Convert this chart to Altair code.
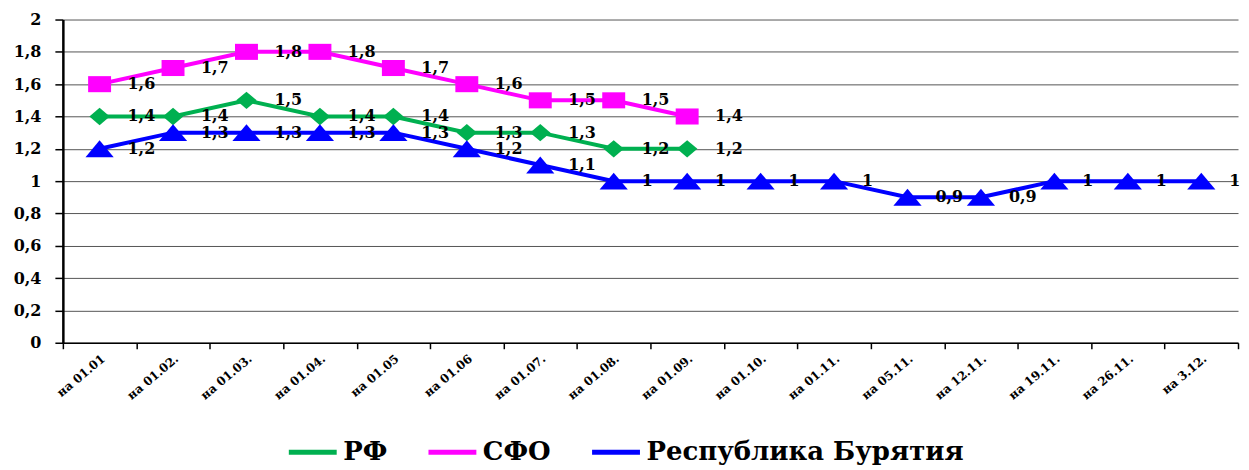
import altair as alt
import pandas as pd

dates = ["на 01.01", "на 01.02.", "на 01.03.", "на 01.04.", "на 01.05", "на 01.06",
         "на 01.07.", "на 01.08.", "на 01.09.", "на 01.10.", "на 01.11.", "на 05.11.",
         "на 12.11.", "на 19.11.", "на 26.11.", "на 3.12."]
series_names = ["РФ", "СФО", "Республика Бурятия"]
rf_values = [1.4, 1.4, 1.5, 1.4, 1.4, 1.3, 1.3, 1.2, 1.2]
sfo_values = [1.6, 1.7, 1.8, 1.8, 1.7, 1.6, 1.5, 1.5, 1.4]
bur_values = [1.2, 1.3, 1.3, 1.3, 1.3, 1.2, 1.1, 1, 1, 1, 1, 0.9, 0.9, 1, 1, 1]
y_ticks = [0, 0.2, 0.4, 0.6, 0.8, 1, 1.2, 1.4, 1.6, 1.8, 2]
colors = ["#00B050", "#FF00FF", "#0000FF"]

FONT = "DejaVu Serif"

rows = []
for name, vals in [(series_names[0], rf_values),
                   (series_names[1], sfo_values),
                   (series_names[2], bur_values)]:
    for i, v in enumerate(vals):
        rows.append({"series": name, "date": dates[i], "idx": i, "value": v,
                     "lbl": f"{v:g}".replace(".", ",")})
df = pd.DataFrame(rows)

x_enc = alt.X("date:N", sort=dates,
              scale=alt.Scale(type="band", domain=dates, paddingInner=0, paddingOuter=0),
              axis=alt.Axis(title=None, labelAngle=-40, tickBand="extent", grid=False,
                            domainColor="black", domainWidth=1.5, tickColor="black",
                            tickSize=6, tickWidth=1.5, labelPadding=4, labelFont=FONT,
                            labelFontWeight="bold", labelFontSize=12, labelColor="black"))
y_enc = alt.Y("value:Q",
              scale=alt.Scale(domain=[0, 2], nice=False, zero=True),
              axis=alt.Axis(title=None, values=y_ticks,
                            labelExpr="replace(format(datum.value, '.1~f'), '.', ',')",
                            grid=True, gridColor="#555555", gridWidth=1,
                            domainColor="black", domainWidth=2.5, tickColor="black",
                            tickSize=8, tickWidth=1.5, labelPadding=14, labelFont=FONT,
                            labelFontWeight="bold", labelFontSize=16, labelColor="black"))
color_scale = alt.Scale(domain=series_names, range=colors)

legend_def = alt.Legend(
    title=None, orient="none", legendX=224, legendY=407, direction="horizontal",
    symbolType="stroke", symbolSize=2304, symbolStrokeWidth=5,
    labelFont=FONT, labelLimit=0, labelFontWeight="bold", labelFontSize=26,
    labelColor="black", labelOffset=4, columnPadding=30,
)

base = alt.Chart(df)

lines = base.mark_line(strokeWidth=4).encode(
    x=x_enc, y=y_enc,
    color=alt.Color("series:N", scale=color_scale, legend=legend_def),
    detail="series:N",
    order=alt.Order("idx:Q"),
)

marker_paths = [
    "M-1,0L0,-0.85L1,0L0,0.85Z",
    "M-1,-0.7L1,-0.7L1,0.7L-1,0.7Z",
    "M0,-0.6L1,0.6L-1,0.6Z",
]
marker_sizes = [420, 529, 800]
point_layers = []
for name, shp, sz, col in zip(series_names, marker_paths, marker_sizes, colors):
    point_layers.append(
        base.transform_filter(alt.datum.series == name).mark_point(
            filled=True, shape=shp, size=sz, color=col, opacity=1, strokeWidth=0
        ).encode(x=x_enc, y=y_enc)
    )

texts = base.mark_text(dx=28, align="left", fontSize=16, font=FONT,
                       fontWeight="bold").encode(
    x=x_enc, y=y_enc, text="lbl:N")

chart = alt.layer(lines, *point_layers, texts).properties(
    width=1178, height=324,
    padding={"left": 5, "top": 3, "right": 0, "bottom": 0},
).configure_view(stroke=None)

chart.save("out.html", embed_options={"renderer": "svg", "actions": False})
